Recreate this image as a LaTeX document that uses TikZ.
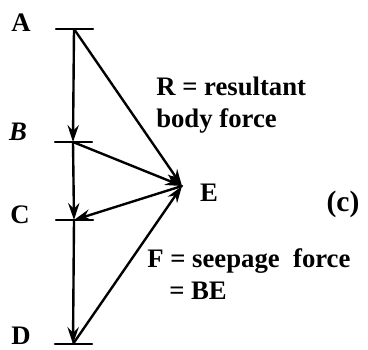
\documentclass[tikz,border=0pt]{standalone}
\usepackage{fontspec}
\setmainfont{Liberation Serif}
\usetikzlibrary{arrows.meta,calc,positioning}

\begin{document}
\begin{tikzpicture}[x=0.025cm, y=-0.025cm, >=Stealth, line cap=round, line join=round,
    force/.style={line width=1.7pt, -{Stealth[length=12pt,width=8pt,inset=4pt]}},
    tickmark/.style={line width=1.7pt},
    pointlabel/.style={font=\fontsize{19}{22}\selectfont\bfseries},
    notelabel/.style={font=\fontsize{19}{23}\selectfont\bfseries, align=left, inner sep=0pt}]
  \path[use as bounding box] (0,0) rectangle (368,349); % keep the page size

  % points of the force polygon
  \coordinate (A) at (74,29);
  \coordinate (B) at (73,142);
  \coordinate (C) at (74,220);
  \coordinate (D) at (73,344);
  \coordinate (E) at (182,186);

  % short ticks at A, B, C, D
  \foreach \p in {A,B,C,D}
    \draw[tickmark] ($(\p)+(-18,0)$) -- ($(\p)+(19,0)$);

  % vertical chain
  \draw[force] (A) -- (B);
  \draw[force] (B) -- (C);
  \draw[force] (C) -- (D);

  % lines meeting at E
  \draw[force] (A) -- (E);
  \draw[force] (B) -- (E);
  \draw[force] (E) -- (C);
  \draw[force] (D) -- (E);

  \node[pointlabel] (labA) at (21,23) {A};
  \node[pointlabel] (labB) at (18,132) {\itshape B};
  \node[pointlabel] (labC) at (20,215) {C};
  \node[pointlabel, inner sep=0pt] (labD) at (21,336) {D};
  \node[pointlabel] (labE) at (209,193) {E};

  \node[notelabel, anchor=west] (rnote) at (156,105) {R = resultant\\body force};
  \node[pointlabel, font=\fontsize{21}{24}\selectfont\bfseries] (caseC) at (343,204) {(c)};
  \node[notelabel, anchor=west] (fnote) at (147,274) {F = seepage\ \ force\\\hspace*{0.55cm}= BE};

\end{tikzpicture}
\end{document}
